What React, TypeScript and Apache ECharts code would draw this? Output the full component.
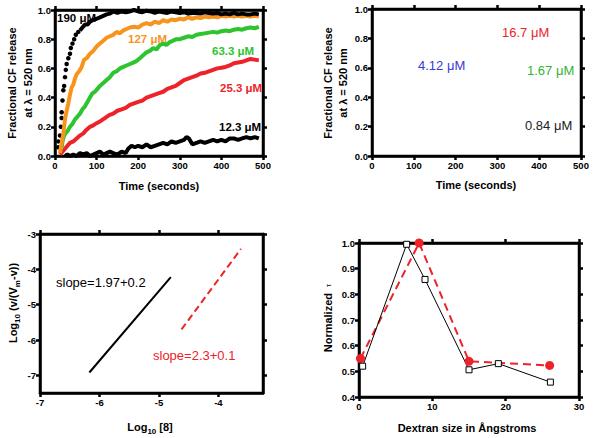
import React, { useEffect, useRef } from "react";
import * as echarts from "echarts";

const FONT = "Arial, 'Liberation Sans', Helvetica, sans-serif";

// Panel A: time courses (seconds, fractional release)
const timeTicks = [0, 100, 200, 300, 400, 500];
const fracTicks = [0, 0.2, 0.4, 0.6, 0.8, 1.0];

const c190Dots: [number, number][] = [
  [8, 0.06], [8, 0.1], [12, 0.14], [14, 0.2], [16, 0.26], [16, 0.3], [18, 0.38], [20, 0.45],
  [22, 0.48], [24, 0.54], [26, 0.59], [28, 0.63], [32, 0.67], [36, 0.7], [38, 0.74], [42, 0.77],
  [46, 0.8], [50, 0.83], [56, 0.85],
];
const c190: [number, number][] = [
  [60, 0.86], [66, 0.88], [72, 0.9], [78, 0.9], [84, 0.92], [90, 0.93], [100, 0.94], [108, 0.95],
  [116, 0.96], [124, 0.97], [132, 0.975], [140, 0.99], [150, 0.98], [160, 0.99], [170, 0.985],
  [180, 0.99], [190, 1.0], [200, 0.99], [210, 0.985], [220, 0.995], [230, 0.99], [240, 0.98],
  [250, 0.99], [260, 0.985], [270, 0.98], [280, 0.99], [290, 0.985], [300, 0.98], [310, 0.985],
  [320, 0.975], [330, 0.98], [340, 0.98], [350, 0.975], [360, 0.985], [370, 0.98], [380, 0.975],
  [390, 0.98], [400, 0.97], [410, 0.975], [420, 0.97], [430, 0.98], [440, 0.97], [450, 0.975],
  [460, 0.97], [470, 0.97], [480, 0.975], [490, 0.97],
];
const c127: [number, number][] = [
  [12, 0.02], [16, 0.09], [20, 0.15], [24, 0.25], [28, 0.31], [32, 0.36], [36, 0.42], [40, 0.47],
  [44, 0.49], [48, 0.53], [52, 0.56], [58, 0.58], [64, 0.61], [70, 0.66], [76, 0.67], [84, 0.7],
  [92, 0.72], [100, 0.75], [108, 0.77], [116, 0.79], [124, 0.81], [132, 0.82], [140, 0.83],
  [148, 0.85], [156, 0.84], [164, 0.86], [172, 0.87], [180, 0.88], [190, 0.885], [200, 0.88],
  [210, 0.9], [220, 0.91], [230, 0.9], [240, 0.92], [250, 0.91], [260, 0.93], [270, 0.92],
  [280, 0.935], [290, 0.93], [300, 0.94], [310, 0.935], [320, 0.95], [330, 0.94], [340, 0.95],
  [350, 0.945], [360, 0.955], [370, 0.95], [380, 0.955], [390, 0.95], [400, 0.96], [410, 0.955],
  [420, 0.96], [430, 0.955], [440, 0.96], [450, 0.955], [460, 0.96], [470, 0.955], [480, 0.96],
  [490, 0.955],
];
const c63: [number, number][] = [
  [16, 0.05], [18, 0.1], [22, 0.14], [26, 0.16], [30, 0.17], [36, 0.2], [42, 0.22], [48, 0.25],
  [54, 0.27], [60, 0.29], [66, 0.32], [72, 0.34], [78, 0.37], [84, 0.4], [90, 0.43], [96, 0.44],
  [102, 0.46], [108, 0.48], [116, 0.5], [124, 0.52], [132, 0.54], [140, 0.57], [148, 0.58],
  [156, 0.6], [164, 0.61], [172, 0.62], [180, 0.63], [188, 0.64], [196, 0.65], [204, 0.67],
  [212, 0.69], [220, 0.71], [228, 0.72], [236, 0.74], [244, 0.73], [252, 0.76], [260, 0.77],
  [268, 0.76], [276, 0.78], [284, 0.79], [292, 0.8], [300, 0.8], [310, 0.81], [320, 0.82],
  [330, 0.815], [340, 0.83], [350, 0.835], [360, 0.84], [370, 0.845], [380, 0.85], [390, 0.845],
  [400, 0.855], [410, 0.86], [420, 0.855], [430, 0.865], [440, 0.87], [450, 0.865], [460, 0.875],
  [470, 0.88], [480, 0.875], [490, 0.885],
];
const c25: [number, number][] = [
  [12, 0.01], [18, 0.03], [24, 0.05], [30, 0.07], [36, 0.09], [44, 0.1], [52, 0.12], [60, 0.14],
  [68, 0.155], [76, 0.18], [84, 0.2], [92, 0.21], [100, 0.225], [110, 0.24], [120, 0.26],
  [130, 0.28], [140, 0.29], [150, 0.31], [160, 0.32], [170, 0.33], [180, 0.35], [190, 0.36],
  [200, 0.37], [210, 0.38], [220, 0.4], [230, 0.41], [240, 0.42], [250, 0.43], [260, 0.44],
  [270, 0.46], [280, 0.47], [290, 0.48], [300, 0.5], [310, 0.52], [320, 0.53], [330, 0.54],
  [340, 0.55], [350, 0.565], [360, 0.57], [370, 0.58], [380, 0.59], [390, 0.6], [400, 0.605],
  [410, 0.61], [420, 0.62], [430, 0.635], [440, 0.64], [450, 0.645], [460, 0.655], [470, 0.665],
  [480, 0.66], [490, 0.655],
];
const c12: [number, number][] = [
  [24, 0.0], [30, 0.01], [36, 0.0], [44, 0.01], [52, 0.0], [60, 0.02], [68, 0.01], [76, 0.02],
  [84, 0.0], [92, 0.01], [100, 0.02], [108, 0.03], [116, 0.01], [124, 0.02], [132, 0.03],
  [140, 0.02], [150, 0.01], [160, 0.03], [170, 0.02], [176, 0.05], [184, 0.07], [192, 0.06],
  [200, 0.07], [210, 0.06], [220, 0.08], [230, 0.06], [240, 0.07], [250, 0.08], [260, 0.09],
  [270, 0.08], [280, 0.1], [290, 0.09], [300, 0.1], [310, 0.11], [316, 0.13], [322, 0.12],
  [330, 0.08], [340, 0.09], [350, 0.1], [360, 0.09], [370, 0.1], [380, 0.11], [390, 0.1],
  [400, 0.11], [410, 0.1], [420, 0.12], [430, 0.12], [440, 0.11], [450, 0.12], [460, 0.13],
  [470, 0.12], [480, 0.13], [490, 0.12],
];

// Panel C: Hill plot fits
const logXTicks = [-7, -6, -5, -4];
const logYTicks = [-7, -6, -5, -4, -3];
const fitBlack: [number, number][] = [[-6.17, -6.92], [-4.8, -4.22]];
const fitRed: [number, number][] = [[-4.62, -5.7], [-3.62, -3.42]];

// Panel D: normalized tau vs dextran size
const dexTicks = [0, 10, 20, 30];
const tauTicks = [0.4, 0.5, 0.6, 0.7, 0.8, 0.9, 1.0];
const tauSquares: [number, number][] = [[0.5, 0.52], [6.5, 0.995], [9.0, 0.858], [15.0, 0.506], [19.0, 0.53], [26.1, 0.458]];
const tauCircles: [number, number][] = [[0.2, 0.55], [8.2, 1.0], [15.0, 0.539], [26.0, 0.523]];

const ORANGE = "#f7941d";
const GREEN = "#2dc42d";
const RED = "#ee2229";

function makeAxis(grid: number, pos: string, min: number, max: number, ticks: number[], labels: boolean, fmt?: (v: number) => string) {
  const a: any = {
    type: "value",
    gridIndex: grid,
    position: pos,
    min,
    max,
    axisLine: { show: true, onZero: false, lineStyle: { color: "#000", width: 2.5 } },
    axisTick: { show: true, length: 4, lineStyle: { color: "#000", width: 2.5 } },
    axisLabel: { show: false },
    splitLine: { show: false },
  };
  a.axisTick.customValues = ticks;
  if (labels) {
    a.axisLabel = {
      show: true, color: "#000", fontWeight: "bold", fontSize: 9.5, fontFamily: FONT, margin: 4,
      customValues: ticks, formatter: fmt || ((v: number) => String(v)),
    };
  }
  return a;
}

const f1 = (v: number) => v.toFixed(1);

function txt(x: number, y: number, text: string, color: string, size: number, bold: boolean, extra: any = {}) {
  return {
    type: "text", x, y, rotation: extra.rotation || 0,
    style: {
      text, fill: color, font: `${bold ? "bold " : ""}${size}px ${FONT}`,
      align: extra.align || "left", verticalAlign: "middle", lineHeight: extra.lineHeight,
    },
  };
}

const gridBox = (left: number, top: number, width: number, height: number) => ({
  left, top, width, height, show: true, borderColor: "#000", borderWidth: 2.5, backgroundColor: "transparent",
});

export default function App() {
  const ref = useRef<HTMLDivElement>(null);
  useEffect(() => {
    if (!ref.current) return;
    const chart = echarts.init(ref.current, null, { renderer: "svg" });
    const lineS = (data: [number, number][], color: string, grid: number, width = 3) => ({
      type: "line", xAxisIndex: grid * 2, yAxisIndex: grid * 2, data,
      showSymbol: false, symbol: "none", lineStyle: { color, width }, silent: true,
    });
    const option: any = {
      animation: false,
      backgroundColor: "#fff",
      grid: [
        gridBox(55, 10, 208, 146),
        gridBox(372, 9, 209, 147),
        gridBox(40, 234, 223, 159),
        gridBox(359, 243, 220, 154),
      ],
      xAxis: [
        makeAxis(0, "bottom", 0, 500, timeTicks, true),
        makeAxis(0, "top", 0, 500, timeTicks, false),
        makeAxis(1, "bottom", 0, 500, timeTicks, true),
        makeAxis(1, "top", 0, 500, timeTicks, false),
        makeAxis(2, "bottom", -7, -3.25, logXTicks, true),
        makeAxis(2, "top", -7, -3.25, logXTicks, false),
        makeAxis(3, "bottom", 0, 30, dexTicks, true),
        makeAxis(3, "top", 0, 30, dexTicks, false),
      ],
      yAxis: [
        makeAxis(0, "left", 0, 1, fracTicks, true, f1),
        makeAxis(0, "right", 0, 1, fracTicks, false),
        makeAxis(1, "left", 0, 1, fracTicks, true, f1),
        makeAxis(1, "right", 0, 1, fracTicks, false),
        makeAxis(2, "left", -7.5, -3, logYTicks, true),
        makeAxis(2, "right", -7.5, -3, logYTicks, false),
        makeAxis(3, "left", 0.4, 1.0, tauTicks, true, f1),
        makeAxis(3, "right", 0.4, 1.0, tauTicks, false),
      ],
      series: [
        lineS(c12, "#000", 0, 4),
        lineS(c25, RED, 0, 4),
        lineS(c63, GREEN, 0, 4),
        lineS(c127, ORANGE, 0, 4),
        lineS(c190, "#000", 0, 4),
        {
          type: "scatter", xAxisIndex: 0, yAxisIndex: 0, data: c190Dots,
          symbolSize: 4.5, itemStyle: { color: "#000", opacity: 1 }, silent: true,
        },
        { type: "scatter", xAxisIndex: 2, yAxisIndex: 2, data: [], silent: true },
        lineS(fitBlack, "#000", 2, 2),
        {
          type: "line", xAxisIndex: 4, yAxisIndex: 4, data: fitRed, showSymbol: false, symbol: "none",
          lineStyle: { color: RED, width: 2, type: [7, 4] }, silent: true,
        },
        {
          type: "line", xAxisIndex: 6, yAxisIndex: 6, data: tauCircles, symbol: "circle", symbolSize: 9,
          showSymbol: true, itemStyle: { color: RED, opacity: 1 }, lineStyle: { color: RED, width: 2, type: [8, 5] }, silent: true,
        },
        {
          type: "line", xAxisIndex: 6, yAxisIndex: 6, data: tauSquares, symbol: "rect", symbolSize: 6,
          showSymbol: true, itemStyle: { color: "#fff", borderColor: "#000", borderWidth: 1, opacity: 1 },
          lineStyle: { color: "#000", width: 1 }, silent: true,
        },
      ],
      graphic: [
        // Panel A
        txt(20, 83, "Fractional CF release\nat λ = 520 nm", "#000", 11, true, { rotation: Math.PI / 2, align: "center", lineHeight: 16 }),
        txt(159, 186, "Time (seconds)", "#000", 11, true, { align: "center" }),
        txt(57, 18, "190 μM", "#000", 11.5, true),
        txt(128, 39, "127 μM", ORANGE, 11.5, true),
        txt(212, 51, "63.3 μM", GREEN, 11.5, true),
        txt(220, 88, "25.3 μM", RED, 11.5, true),
        txt(219, 127, "12.3 μM", "#000", 11.5, true),
        // Panel B
        txt(335, 83, "Fractional CF release\nat λ = 520 nm", "#000", 11, true, { rotation: Math.PI / 2, align: "center", lineHeight: 15 }),
        txt(476, 185, "Time (seconds)", "#000", 11, true, { align: "center" }),
        txt(502, 32, "16.7 μM", RED, 13, false),
        txt(418, 65, "4.12 μM", "#3a3ad0", 13, false),
        txt(527, 70, "1.67 μM", "#2fb52f", 13, false),
        txt(525, 125, "0.84 μM", "#222", 13, false),
        // Panel C
        {
          type: "text", x: 13, y: 303, rotation: Math.PI / 2,
          style: {
            text: "{b|Log}{s|10}{b| (v/(V}{s|m}{b|-v))}", align: "center", verticalAlign: "middle",
            rich: {
              b: { font: `bold 11px ${FONT}`, fill: "#000", lineHeight: 16 },
              s: { font: `bold 8px ${FONT}`, fill: "#000", verticalAlign: "bottom", lineHeight: 16 },
            },
          },
        },
        {
          type: "text", x: 150, y: 427,
          style: {
            text: "{b|Log}{s|10}{b| [8]}", align: "center", verticalAlign: "middle",
            rich: {
              b: { font: `bold 11px ${FONT}`, fill: "#000", lineHeight: 16 },
              s: { font: `bold 8px ${FONT}`, fill: "#000", verticalAlign: "bottom", lineHeight: 16 },
            },
          },
        },
        txt(56, 282, "slope=1.97+0.2", "#000", 13, false),
        txt(153, 355, "slope=2.3+0.1", RED, 13, false),
        // Panel D
        {
          type: "text", x: 328, y: 318, rotation: Math.PI / 2,
          style: {
            text: "{b|Normalized  }{t|τ}", align: "center", verticalAlign: "middle",
            rich: {
              b: { font: `bold 11px ${FONT}`, fill: "#000", lineHeight: 14 },
              t: { font: `8px ${FONT}`, fill: "#000", lineHeight: 14 },
            },
          },
        },
        txt(467, 428, "Dextran size in Ångstroms", "#000", 11, true, { align: "center" }),
      ],
    };
    chart.setOption(option);
    return () => chart.dispose();
  }, []);
  return (
    <div
      ref={ref}
      style={{ position: "fixed", left: 0, top: 0, width: 593, height: 438, background: "#fff" }}
    />
  );
}
